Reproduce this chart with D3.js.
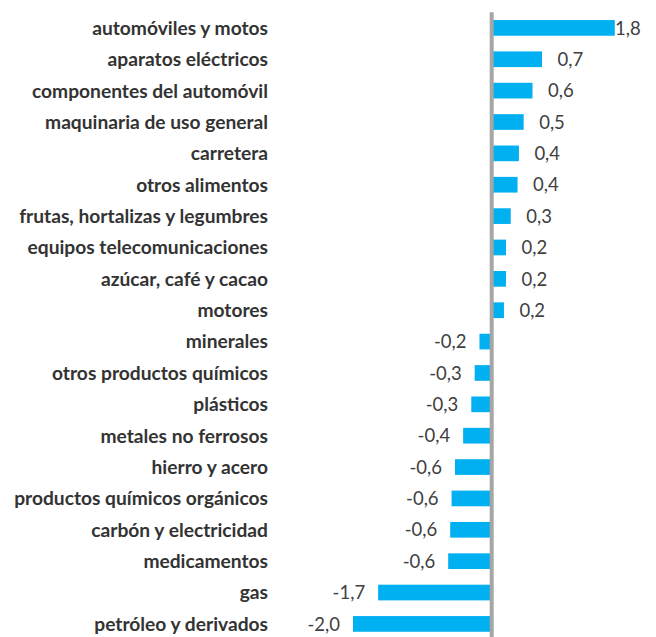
<!DOCTYPE html>
<html>
<head>
<meta charset="utf-8">
<script src="https://cdn.jsdelivr.net/npm/d3@7"></script>
<style>
  body { margin: 0; background: #fff; }
  svg { display: block; }
  .cat { font: bold 19.2px Lato, sans-serif; fill: #333; }
  .val { font: 18.5px Lato, sans-serif; fill: #404040; }
</style>
</head>
<body>
<svg id="chart" width="656" height="637"></svg>
<script>
// datos (puntos porcentuales)
const categories = [
  'automóviles y motos', 'aparatos eléctricos', 'componentes del automóvil',
  'maquinaria de uso general', 'carretera', 'otros alimentos',
  'frutas, hortalizas y legumbres', 'equipos telecomunicaciones',
  'azúcar, café y cacao', 'motores', 'minerales', 'otros productos químicos',
  'plásticos', 'metales no ferrosos', 'hierro y acero',
  'productos químicos orgánicos', 'carbón y electricidad', 'medicamentos',
  'gas', 'petróleo y derivados'
];
const values = [
  1.81, 0.74, 0.60, 0.47, 0.40, 0.38, 0.28, 0.21, 0.21, 0.18,
  -0.18, -0.25, -0.30, -0.42, -0.54, -0.59, -0.61, -0.64, -1.67, -2.04
];
const labels = [
  '1,8', '0,7', '0,6', '0,5', '0,4', '0,4', '0,3', '0,2', '0,2', '0,2',
  '-0,2', '-0,3', '-0,3', '-0,4', '-0,6', '-0,6', '-0,6', '-0,6', '-1,7', '-2,0'
];

const data = categories.map((c, i) => ({ cat: c, value: values[i], label: labels[i] }));

const svg = d3.select('#chart');
const width = 656;

const x = d3.scaleLinear().domain([-2.5, 2.5]).range([321.7, 661.7]);
const y = d3.scaleBand()
  .domain(categories)
  .range([12.2, 639.6])
  .paddingInner(0.5)
  .paddingOuter(0.25);

// barras
svg.append('g')
  .selectAll('rect')
  .data(data)
  .join('rect')
  .attr('x', d => x(Math.min(0, d.value)))
  .attr('y', d => y(d.cat))
  .attr('width', d => Math.abs(x(d.value) - x(0)))
  .attr('height', y.bandwidth())
  .attr('fill', '#00B0F0');

// eje cero
svg.append('line')
  .attr('x1', x(0)).attr('x2', x(0))
  .attr('y1', y.range()[0]).attr('y2', 637)
  .attr('stroke', '#A6A6A6')
  .attr('stroke-width', 4);

// etiquetas de categoría
svg.append('g')
  .selectAll('text')
  .data(data)
  .join('text')
  .attr('class', 'cat')
  .attr('x', 268)
  .attr('y', d => y(d.cat) + y.bandwidth() / 2)
  .attr('dy', '0.36em')
  .attr('text-anchor', 'end')
  .text(d => d.cat);

// etiquetas de valor
svg.append('g')
  .selectAll('text')
  .data(data)
  .join('text')
  .attr('class', 'val')
  .attr('x', d => d.value >= 0
    ? Math.min(x(d.value) + 15.5, width - 41)
    : x(d.value) - 13)
  .attr('y', d => y(d.cat) + y.bandwidth() / 2)
  .attr('dy', '0.36em')
  .attr('text-anchor', d => d.value >= 0 ? 'start' : 'end')
  .text(d => d.label);
</script>
</body>
</html>
